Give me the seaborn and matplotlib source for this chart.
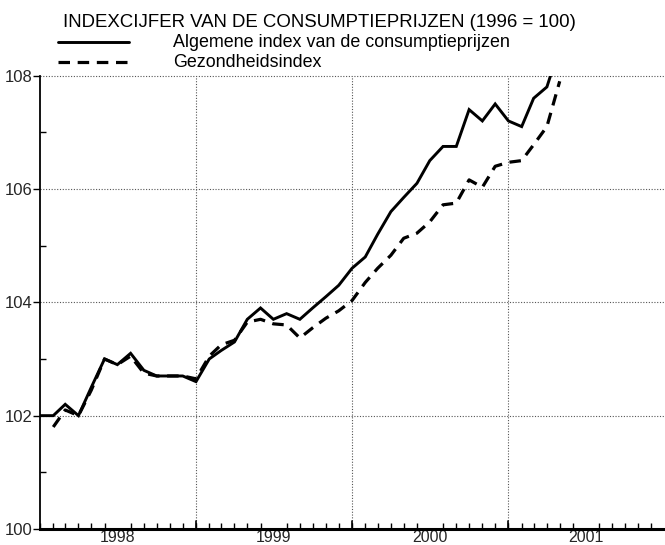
import matplotlib
matplotlib.use("Agg")
import matplotlib.pyplot as plt
import matplotlib.dates as mdates
from matplotlib.lines import Line2D
from matplotlib.ticker import FixedLocator, NullFormatter
import pandas as pd
import seaborn as sns

# ---- data -------------------------------------------------------------
title = "INDEXCIJFER VAN DE CONSUMPTIEPRIJZEN (1996 = 100)"
series_names = ["Algemene index van de consumptieprijzen", "Gezondheidsindex"]
start_month = "1998-01-01"
algemene = [102.0, 102.0, 102.2, 102.0, 102.5, 103.0, 102.9, 103.1, 102.8, 102.7,
            102.7, 102.7, 102.6, 103.0, 103.15, 103.3, 103.7, 103.9, 103.7, 103.8,
            103.7, 103.9, 104.1, 104.3, 104.6, 104.8, 105.2, 105.6, 105.85, 106.1,
            106.5, 106.75, 106.75, 107.4, 107.2, 107.5, 107.2, 107.1, 107.6, 107.8,
            108.5]
gezondheid = [None, 101.8, 102.1, 102.0, 102.45, 103.0, 102.9, 103.05, 102.75, 102.7,
              102.7, 102.7, 102.65, 103.05, 103.25, 103.33, 103.65, 103.7, 103.62, 103.6,
              103.37, 103.55, 103.72, 103.85, 104.03, 104.35, 104.6, 104.83, 105.13, 105.22,
              105.42, 105.72, 105.75, 106.16, 106.03, 106.4, 106.47, 106.5, 106.78, 107.1,
              107.9]
year_labels = ["1998", "1999", "2000", "2001"]
y_ticks = [100, 102, 104, 106, 108]
y_minor = [101, 103, 105, 107]

months = pd.date_range(start_month, periods=len(algemene), freq="MS")
df = pd.DataFrame({"maand": months, "alg": algemene,
                   "gez": pd.array(gezondheid, dtype="Float64").astype(float)})

# ---- figure -------------------------------------------------------------
sns.set_theme(style="white")
plt.rcParams["font.family"] = ["Liberation Sans", "DejaVu Sans"]
W, H = 665, 545
fig = plt.figure(figsize=(W / 100, H / 100), dpi=100)
ax = fig.add_axes([40 / W, (H - 529) / H, (664 - 40) / W, (529 - 75.6) / H])

sns.lineplot(data=df, x="maand", y="alg", ax=ax, color="black", linewidth=2.1,
             solid_joinstyle="miter")
sns.lineplot(data=df, x="maand", y="gez", ax=ax, color="black", linewidth=2.3,
             linestyle=(0, (3.6, 2.4)))

ax.set_ylim(100, 108)
ax.set_xlim(pd.Timestamp("1998-01-01"), pd.Timestamp("2001-12-31"))
ax.set_xlabel("")
ax.set_ylabel("")

# y axis
ax.yaxis.set_major_locator(FixedLocator(y_ticks))
ax.yaxis.set_minor_locator(FixedLocator(y_minor))
ax.set_yticklabels([str(v) for v in y_ticks])
ax.tick_params(axis="y", which="major", direction="out", length=5, width=1,
               color="black", labelsize=12, pad=0.5, left=True)
ax.tick_params(axis="y", which="minor", direction="in", length=4, width=1,
               color="black", left=True)

# x axis: monthly minor ticks, year labels centred mid-year
year_mid = [pd.Timestamp(f"{y}-07-01") for y in year_labels]
ax.xaxis.set_major_locator(FixedLocator(mdates.date2num(year_mid)))
ax.set_xticklabels(year_labels)
ax.xaxis.set_minor_locator(mdates.MonthLocator())
ax.xaxis.set_minor_formatter(NullFormatter())
ax.tick_params(axis="x", which="major", length=0, labelsize=11.5, pad=0.5)
ax.tick_params(axis="x", which="minor", direction="in", length=4, width=1,
               color="black", bottom=True)

# grid
grid_kw = dict(color="#555555", linewidth=0.8, linestyle=(0, (1, 1.5)), zorder=0)
for v in y_ticks[1:]:
    ax.axhline(v, clip_on=False, **grid_kw)
for y in year_labels[1:]:
    ax.axvline(pd.Timestamp(f"{y}-01-01"), **grid_kw)
    ax.axvline(pd.Timestamp(f"{y}-01-01"), ymin=0, ymax=0.018, color="black",
               linewidth=1.2)

for s in ["top", "right"]:
    ax.spines[s].set_visible(False)
ax.spines["left"].set_color("black")
ax.spines["left"].set_linewidth(1.3)
ax.spines["bottom"].set_color("black")
ax.spines["bottom"].set_linewidth(2.2)
ax.set_facecolor("white")
fig.patch.set_facecolor("white")

# title and legend (figure coordinates)
def fit_text(x, y, s, size, target_w, **kw):
    t = fig.text(x / W, 1 - y / H, s, fontsize=size, **kw)
    fig.canvas.draw()
    w = t.get_window_extent().width
    t.set_fontsize(size * target_w / w)
    return t

fit_text(63, 26.7, title, 12, 512, va="baseline", ha="left", color="black")
fit_text(172.7, 46.7, series_names[0], 11, 335, va="baseline", ha="left",
         color="black")
t2 = fig.text(172.7 / W, 1 - 66.7 / H, series_names[1], va="baseline", ha="left",
              color="black")
fig.canvas.draw()
t2.set_fontsize(fig.texts[1].get_fontsize())

fig.add_artist(Line2D([58 / W, 129 / W], [1 - 41.7 / H, 1 - 41.7 / H],
                      color="black", linewidth=2.1, transform=fig.transFigure))
fig.add_artist(Line2D([58 / W, 129 / W], [1 - 61.7 / H, 1 - 61.7 / H],
                      color="black", linewidth=2.3, linestyle=(0, (3.6, 2.4)),
                      transform=fig.transFigure))

fig.savefig("out.png", dpi=100, facecolor="white")
